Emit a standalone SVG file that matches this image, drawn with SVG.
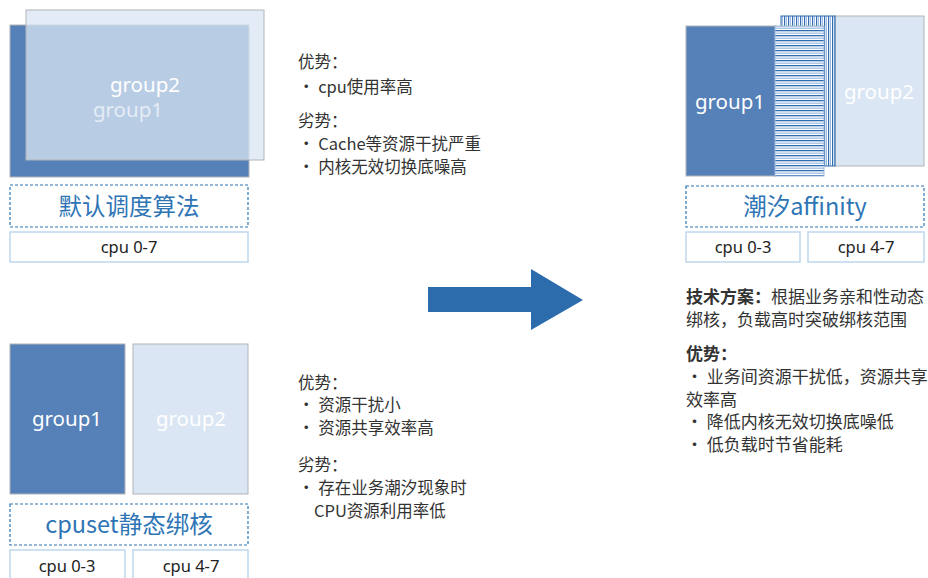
<svg xmlns="http://www.w3.org/2000/svg" width="928" height="578" viewBox="0 0 928 578">
<defs>
<style>
.t{font-family:"Noto Sans CJK SC","Noto Sans",sans-serif;font-size:16.5px;fill:#333333}
.r{font-size:17px}
.b{font-weight:bold}
.g{font-family:"Noto Sans","Noto Sans CJK SC",sans-serif;font-size:20.5px;fill:#ffffff;text-anchor:middle}
.dark{fill:#5680b8;stroke:#b0b4b8;stroke-width:1}
.light{fill:#dae6f3;stroke:#b0b4b8;stroke-width:1}
.dash{fill:#ffffff;stroke:#2e75b6;stroke-width:1.2;stroke-dasharray:3 2}
.lbl{font-family:"Noto Sans CJK SC","Noto Sans",sans-serif;font-size:23.5px;fill:#2e75b6;text-anchor:middle}
.cpu{fill:#ffffff;stroke:#bdd7ee;stroke-width:1.5}
.ct{font-family:"Noto Sans","Noto Sans CJK SC",sans-serif;font-size:16.5px;fill:#222222;text-anchor:middle}
</style>
<pattern id="hz" width="6" height="5" patternUnits="userSpaceOnUse">
<rect width="6" height="5" fill="#ffffff"/>
<rect y="0" width="6" height="1.3" fill="#2e6db0"/>
<rect y="2.6" width="6" height="1.2" fill="#9dbbe0"/>
</pattern>
<pattern id="vt" width="4" height="6" patternUnits="userSpaceOnUse">
<rect width="4" height="6" fill="#ffffff"/>
<rect x="0" width="1.2" height="6" fill="#2e6db0"/>
<rect x="2" width="1" height="6" fill="#9dbbe0"/>
</pattern>
</defs>

<g id="default">
<rect class="dark" x="10" y="25" width="239" height="152"/>
<text class="g" x="128" y="117">group1</text>
<rect x="26" y="10" width="238" height="150" fill="#dae6f3" fill-opacity="0.75" stroke="#b0b4b8" stroke-width="1"/>
<text class="g" x="145" y="92">group2</text>
<rect class="dash" x="10" y="185" width="238" height="42"/>
<text class="lbl" x="129" y="215">默认调度算法</text>
<rect class="cpu" x="10" y="232" width="238" height="30"/>
<text class="ct" x="129" y="253">cpu 0-7</text>
</g>

<g id="default-text">
<text class="t" x="298" y="68">优势：</text>
<text class="t" x="298" y="93">· cpu使用率高</text>
<text class="t" x="298" y="127">劣势：</text>
<text class="t" x="298" y="150">· Cache等资源干扰严重</text>
<text class="t" x="298" y="173">· 内核无效切换底噪高</text>
</g>

<g id="cpuset">
<rect class="dark" x="10" y="344" width="115" height="150"/>
<text class="g" x="67" y="426">group1</text>
<rect class="light" x="133" y="344" width="115" height="150"/>
<text class="g" x="191" y="426">group2</text>
<rect class="dash" x="10" y="504" width="238" height="41"/>
<text class="lbl" x="129" y="533">cpuset静态绑核</text>
<rect class="cpu" x="10" y="550" width="115" height="32"/>
<text class="ct" x="67" y="572">cpu 0-3</text>
<rect class="cpu" x="133" y="550" width="115" height="32"/>
<text class="ct" x="191" y="572">cpu 4-7</text>
</g>

<g id="cpuset-text">
<text class="t" x="298" y="389">优势：</text>
<text class="t" x="298" y="411">· 资源干扰小</text>
<text class="t" x="298" y="434">· 资源共享效率高</text>
<text class="t" x="298" y="471">劣势：</text>
<text class="t" x="298" y="494">· 存在业务潮汐现象时</text>
<text class="t" x="314" y="517">CPU资源利用率低</text>
</g>

<g id="affinity">
<rect class="light" x="835" y="16" width="89" height="150"/>
<text class="g" x="879" y="99">group2</text>
<rect x="781" y="16" width="54" height="150" fill="url(#vt)" stroke="#2e6db0" stroke-width="1"/>
<rect class="dark" x="686" y="26" width="90" height="150"/>
<text class="g" x="730" y="109">group1</text>
<rect x="775" y="26" width="49" height="150" fill="url(#hz)" stroke="#9dbbe0" stroke-width="1"/>
<rect class="dash" x="686" y="186" width="238" height="41"/>
<text class="lbl" x="805" y="215">潮汐affinity</text>
<rect class="cpu" x="686" y="232" width="114" height="30"/>
<text class="ct" x="743" y="253">cpu 0-3</text>
<rect class="cpu" x="808" y="232" width="116" height="30"/>
<text class="ct" x="866" y="253">cpu 4-7</text>
</g>

<g id="affinity-text">
<text class="t r" x="686" y="303"><tspan class="b">技术方案：</tspan>根据业务亲和性动态</text>
<text class="t r" x="686" y="326">绑核，负载高时突破绑核范围</text>
<text class="t r b" x="686" y="360">优势：</text>
<text class="t r" x="686" y="383">· 业务间资源干扰低，资源共享</text>
<text class="t r" x="686" y="406">效率高</text>
<text class="t r" x="686" y="428">· 降低内核无效切换底噪低</text>
<text class="t r" x="686" y="451">· 低负载时节省能耗</text>
</g>

<g id="connectors">
<polygon points="428,287 531,287 531,269 583,300 531,330 531,312 428,312" fill="#2c6cad"/>
</g>
</svg>
